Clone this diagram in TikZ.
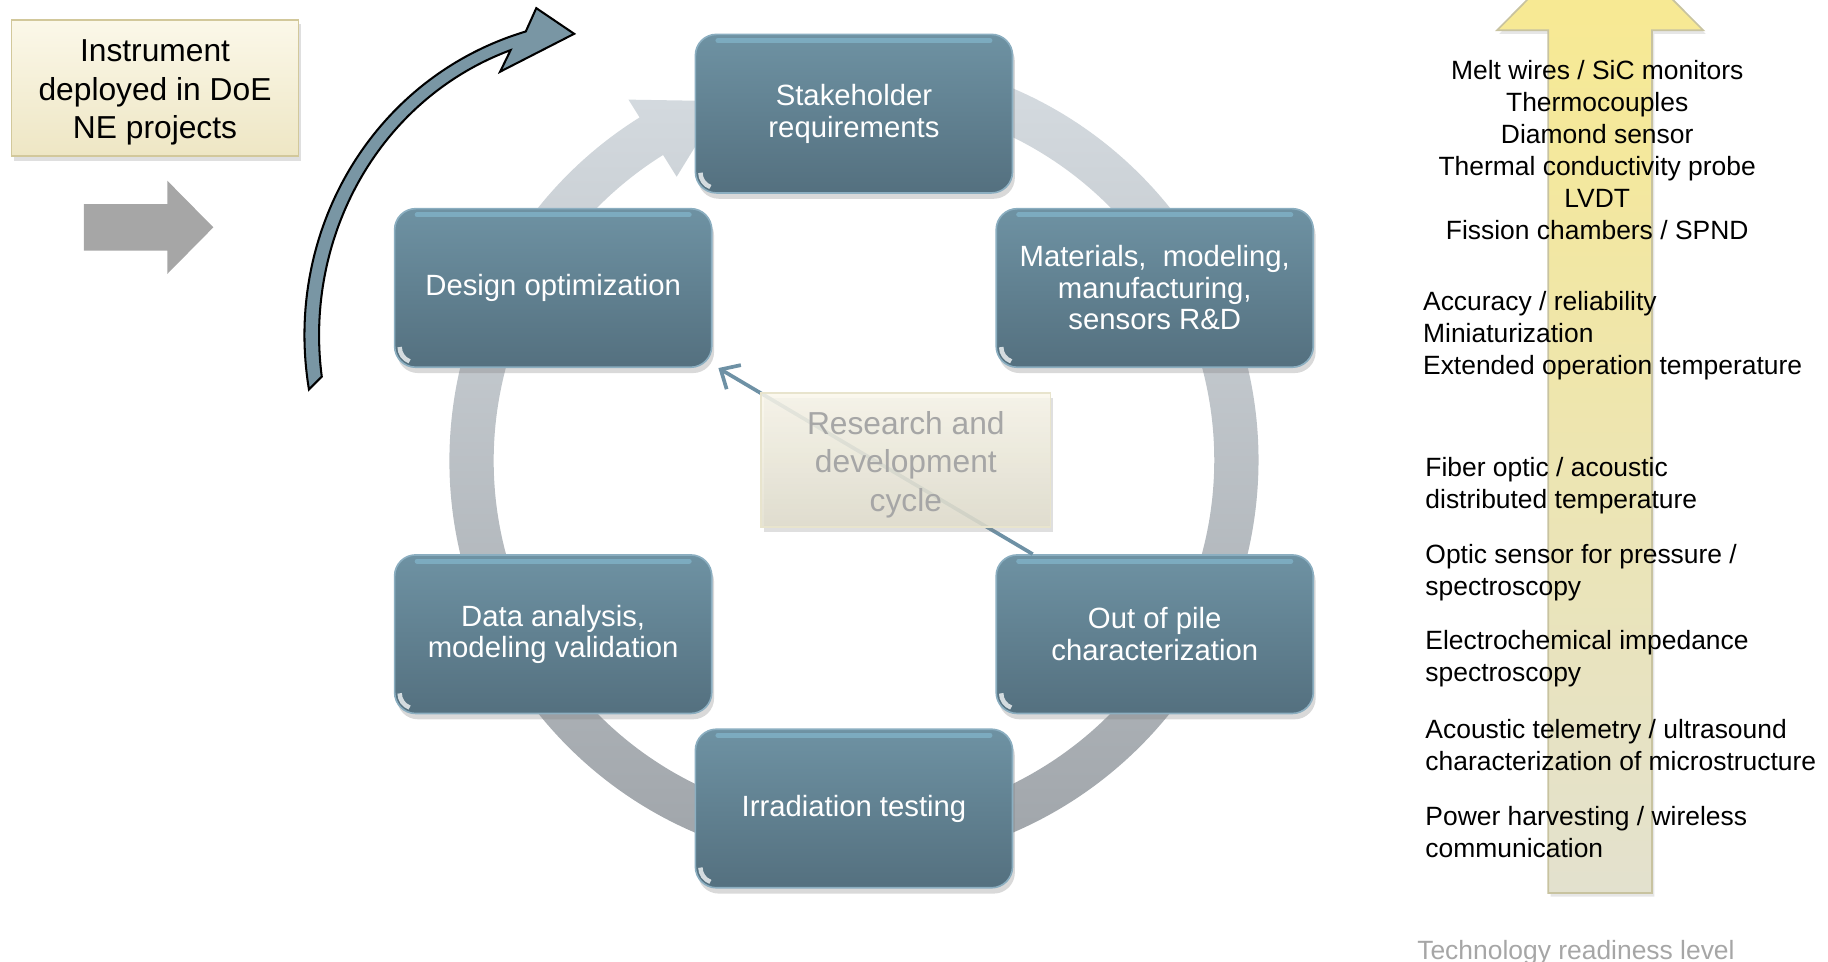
\documentclass[tikz,border=0pt]{standalone}
\usepackage{fontspec}
\setmainfont{Liberation Sans}
\usepackage{tikz}
\usetikzlibrary{calc,shadows,arrows.meta}
\usepackage{xcolor}

\definecolor{stagetop}{RGB}{110,146,163}
\definecolor{stagebot}{RGB}{84,112,127}
\definecolor{stageedge}{RGB}{139,174,192}
\definecolor{ringtop}{RGB}{214,220,225}
\definecolor{ringbot}{RGB}{158,163,168}
\definecolor{goldtop}{RGB}{251,248,233}
\definecolor{goldbot}{RGB}{238,230,196}
\definecolor{golddraw}{RGB}{210,200,155}
\definecolor{cycletop}{RGB}{250,247,235}
\definecolor{cyclebot}{RGB}{224,221,204}
\definecolor{arrowgray}{RGB}{166,166,166}
\definecolor{curvefill}{RGB}{121,150,164}
\definecolor{linkblue}{RGB}{110,145,165}
\definecolor{yellowtop}{RGB}{249,234,142}
\definecolor{yellowmid}{RGB}{224,212,145}
\definecolor{yellowbot}{RGB}{227,225,206}
\definecolor{yellowedge}{RGB}{200,195,160}

\tikzset{
  stage/.style={rectangle, rounded corners=0.18cm, minimum width=2.72cm,
    minimum height=1.36cm, top color=stagetop, bottom color=stagebot,
    draw=stageedge, line width=0.4pt, text=white, align=center,
    font=\fontsize{7.15}{7.7}\selectfont,
    drop shadow={opacity=0.3, shadow xshift=0.02cm, shadow yshift=-0.05cm}},
  sheen/.style={white!60!cyan, opacity=0.35, line width=1.2pt, line cap=round},
  note/.style={rectangle, top color=goldtop, bottom color=goldbot,
    draw=golddraw, line width=0.4pt, align=center, inner ysep=0pt,
    font=\fontsize{7.75}{9.4}\selectfont,
    drop shadow={opacity=0.25, shadow xshift=0.02cm, shadow yshift=-0.04cm}},
  tech/.style={inner sep=0pt, align=left, anchor=west,
    font=\fontsize{6.45}{7.8}\selectfont},
  link/.style={draw=linkblue, line width=0.9pt,
    -{Straight Barb[length=0.13cm,width=0.24cm]}},
}

\begin{document}
\begin{tikzpicture}
\useasboundingbox (0,0) rectangle (15.68,8.25);

% block arrow and deployment note
\node[note, minimum width=2.46cm, minimum height=1.17cm] (deploy) at (1.33,7.495) {\rule{0pt}{0.27cm}Instrument\\deployed in DoE\\NE projects};
\fill[arrowgray] (0.72,6.50) -- (1.435,6.50) -- (1.435,6.70) -- (1.83,6.30) -- (1.435,5.90) -- (1.435,6.10) -- (0.72,6.10) -- cycle;

% curved arrow up to deployment
\filldraw[fill=curvefill, draw=black, line width=0.5pt] (2.65,4.91) .. controls (2.426,6.263) and (3.197,7.586) .. (4.51,7.98)
  -- (4.60,8.18) -- (4.925,7.96) -- (4.29,7.635) -- (4.38,7.82)
  .. controls (3.25,7.40) and (2.604,6.216) .. (2.76,5.02) -- cycle;

% ring arrow behind the stages
\coordinate (ringc) at (7.325,4.30);
\shade[top color=ringtop, bottom color=ringbot] ($(ringc)+(85:3.47)$) arc[start angle=85, end angle=-238, radius=3.47]
  -- ($(ringc)+(-238:3.65)$) -- ($(ringc)+(-250:3.28)$) -- ($(ringc)+(-238:2.87)$)
  -- ($(ringc)+(-238:3.09)$) arc[start angle=-238, end angle=85, radius=3.09] -- cycle;

% stages
\node[stage] (stake) at (7.325,7.275) {Stakeholder\\requirements};
\node[stage] (mat) at (9.905,5.78) {Materials,\ \ modeling,\\manufacturing,\\sensors R\&D};
\node[stage] (pile) at (9.905,2.81) {Out of pile\\characterization};
\node[stage] (irr) at (7.325,1.315) {Irradiation testing};
\node[stage] (data) at (4.745,2.81) {Data analysis,\\modeling validation};
\node[stage] (design) at (4.745,5.78) {Design optimization};

\foreach \s in {stake,mat,pile,irr,data,design} {
  \draw[sheen] ([xshift=0.2cm,yshift=-0.06cm]\s.north west) -- ([xshift=-0.2cm,yshift=-0.06cm]\s.north east);
  \draw[white, opacity=0.75, line width=1.1pt] ([xshift=0.05cm,yshift=0.18cm]\s.south west) arc[start angle=180, end angle=250, radius=0.13];
}

% R&D cycle label
\draw[link] ([xshift=0.32cm]pile.north west) -- ([xshift=0.05cm]design.south east);
\node[note, top color=cycletop, bottom color=cyclebot, draw=golddraw!50, text=arrowgray,
  minimum width=2.48cm, minimum height=1.15cm, fill opacity=0.85, text opacity=1] (rdcycle) at (7.77,4.305) {\rule{0pt}{0.28cm}Research and\\development\\cycle};

% readiness arrow
\shade[top color=yellowtop, middle color=yellowmid, bottom color=yellowbot, draw=yellowedge, line width=0.4pt,
  drop shadow={opacity=0.2, shadow xshift=0.02cm, shadow yshift=-0.03cm}]
  (13.28,0.59) -- (13.28,7.99) -- (12.84,7.99) -- (13.725,8.88) -- (14.61,7.99) -- (14.17,7.99) -- (14.17,0.59) -- cycle;

\node[tech, anchor=center, align=center] (sensors) at (13.70,6.965) {Melt wires / SiC monitors\\Thermocouples\\Diamond sensor\\Thermal conductivity probe\\LVDT\\Fission chambers / SPND};
\node[tech] (needs) at (12.20,5.37) {Accuracy / reliability\\Miniaturization\\Extended operation temperature};
\foreach \txt/\yy [count=\i] in {{Fiber optic / acoustic\\distributed temperature}/4.085,
    {Optic sensor for pressure /\\spectroscopy}/3.335,
    {Electrochemical impedance\\spectroscopy}/2.60,
    {Acoustic telemetry / ultrasound\\characterization of microstructure}/1.86,
    {Power harvesting / wireless\\communication}/1.11}
  \node[tech] (item\i) at (12.22,\yy) {\txt};
\node[tech, text=arrowgray] (trl) at (12.15,0.08) {Technology readiness level};
\end{tikzpicture}
\end{document}
